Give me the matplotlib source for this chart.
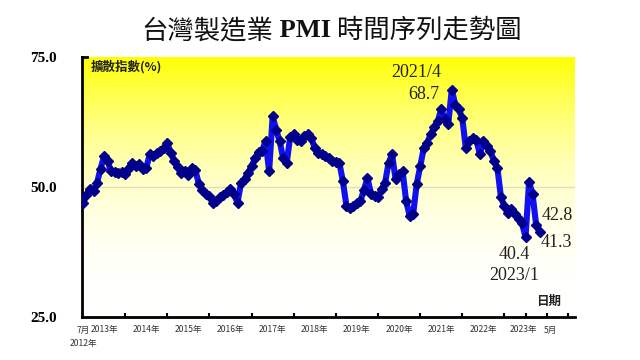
import matplotlib
matplotlib.use("Agg")
import matplotlib.pyplot as plt
import matplotlib.transforms as mtransforms
import numpy as np

CJK = ["Noto Sans CJK TC", "DejaVu Sans"]
SERIF = "Liberation Serif"

# Taiwan manufacturing PMI, monthly from 2012/7 to 2023/5
pmi = [
    47.0, 48.5, 49.6, 49.3, 50.8, 53.5,                                      # 2012 Jul-Dec
    55.9, 55.0, 53.0, 52.8, 52.6, 52.9, 52.5, 53.6, 54.6, 54.0, 54.5, 53.4,  # 2013
    53.6, 56.3, 56.0, 56.5, 56.9, 57.5, 58.4, 56.5, 55.0, 53.8, 52.7, 53.0,  # 2014
    52.4, 53.6, 53.2, 50.6, 49.5, 48.7, 48.3, 47.0, 47.4, 48.0, 48.5, 49.0,  # 2015
    49.6, 48.6, 47.0, 50.8, 51.5, 52.7, 54.0, 55.5, 56.8, 57.0, 58.8, 53.0,  # 2016
    63.6, 61.0, 58.8, 55.5, 54.6, 59.7, 60.1, 59.0, 58.8, 59.8, 60.1, 59.5,  # 2017
    57.4, 56.5, 56.3, 56.0, 55.5, 55.0, 54.8, 54.6, 51.1, 46.4, 46.0, 46.3,  # 2018
    46.9, 47.3, 49.5, 51.7, 48.7, 48.2, 48.0, 49.6, 50.8, 54.6, 56.3, 51.5,  # 2019
    52.5, 53.0, 47.3, 44.5, 44.8, 50.5, 54.0, 57.4, 58.5, 60.1, 61.5, 62.6,  # 2020
    65.0, 63.0, 62.2, 68.7, 65.8, 64.9, 63.2, 57.4, 58.8, 59.4, 59.0, 56.3,  # 2021
    58.8, 57.8, 56.9, 55.0, 53.6, 48.0, 46.3, 45.0, 45.8, 44.8, 43.9, 43.0,  # 2022
    40.4, 51.0, 48.6, 42.8, 41.3,                                            # 2023 Jan-May
]

tick_labels = ["7月", "2013年", "2014年", "2015年", "2016年", "2017年", "2018年",
               "2019年", "2020年", "2021年", "2022年", "2023年", "5月"]
tick_months = [0, 6, 18, 30, 42, 54, 66, 78, 90, 102, 114, 125.5, 133]
first_year = "2012年"
y_ticks = [25.0, 50.0, 75.0]

x = np.arange(len(pmi))

fig = plt.figure(figsize=(6.4, 3.6), dpi=100)
ax = fig.add_axes([0.128, 0.119, 0.770, 0.723])

# yellow-to-white background
ys = np.linspace(0, 1, 256)[:, None]
amt = ys ** 2.3
bg = np.ones((256, 2, 3))
bg[:, :, 2] = (1 - amt) * np.ones((1, 2))
ax.imshow(bg, extent=[-0.3, 140, 25, 75], origin="lower", aspect="auto", zorder=0)

ax.axhline(50, color="#e2dcb8", linewidth=1.0, zorder=1)

ax.plot(x, pmi, color="#1010f0", linewidth=4.4, zorder=3, solid_joinstyle="round")
ax.plot(x, pmi, linestyle="none", marker="D", markersize=5.2, color="#00008b", zorder=4)

ax.set_xlim(-0.3, 140)
ax.set_ylim(25, 75)
for s in ["top", "right"]:
    ax.spines[s].set_visible(False)
ax.spines["left"].set_linewidth(2)
ax.spines["bottom"].set_linewidth(2)

ax.set_yticks(y_ticks)
ax.set_yticklabels([f"{v:.1f}" for v in y_ticks], fontfamily=SERIF, fontweight="bold", fontsize=11)
ax.tick_params(axis="y", length=0, pad=18)

ax.set_xticks(np.arange(0, 139, 6), minor=True)
ax.set_xticks(tick_months)
ax.set_xticklabels(tick_labels, fontfamily=CJK, fontsize=6.2, color="#333333")
ax.tick_params(axis="x", which="major", length=0, pad=6)
ax.tick_params(axis="x", which="minor", direction="in", length=3, width=1.5)

trans = mtransforms.blended_transform_factory(ax.transData, ax.transAxes)
ax.text(0, -0.085, first_year, transform=trans, fontfamily=CJK, fontsize=6.2,
        color="#333333", ha="center", va="top")

# small hook at top of left spine
ax.plot([-0.3, 1.2], [75, 75], color="black", linewidth=2, clip_on=False, zorder=5)

ax.text(2.2, 72.3, "擴散指數(%)", fontfamily=CJK, fontsize=9, fontweight="bold", color="#222222")
ax.text(132.5, 27.3, "日期", fontfamily=CJK, fontsize=9, fontweight="bold", color="#222222", ha="center")

ann = dict(textcoords="offset pixels", fontfamily=SERIF, fontsize=13, color="#222222",
           ha="center", va="center")
ipk = int(np.argmax(pmi))
ax.annotate("68.7", (x[ipk], pmi[ipk]), xytext=(-28, -5), **ann)
ax.annotate("2021/4", (x[ipk], pmi[ipk]), xytext=(-36, 17), **ann)
ilo = 126
ax.annotate("40.4", (x[ilo], pmi[ilo]), xytext=(-11, -18), **ann)
ax.annotate("2023/1", (x[ilo], pmi[ilo]), xytext=(-11, -39), **ann)
ax.annotate("42.8", (x[129], pmi[129]), xytext=(21, 9), **ann)
ax.annotate("41.3", (x[130], pmi[130]), xytext=(17, -10), **ann)

# title with serif bold PMI
parts = [("台灣製造業", CJK, "normal"), (" PMI ", SERIF, "bold"), ("時間序列走勢圖", CJK, "normal")]
texts = [fig.text(0, 0.915, s, fontfamily=f, fontweight=w, fontsize=19, va="center", color="#111111")
         for s, f, w in parts]
fig.canvas.draw()
r = fig.canvas.get_renderer()
widths = [t.get_window_extent(r).width / fig.bbox.width for t in texts]
start = 0.518 - sum(widths) / 2
for t, w in zip(texts, widths):
    t.set_x(start)
    start += w

fig.savefig("out.png", dpi=100)
